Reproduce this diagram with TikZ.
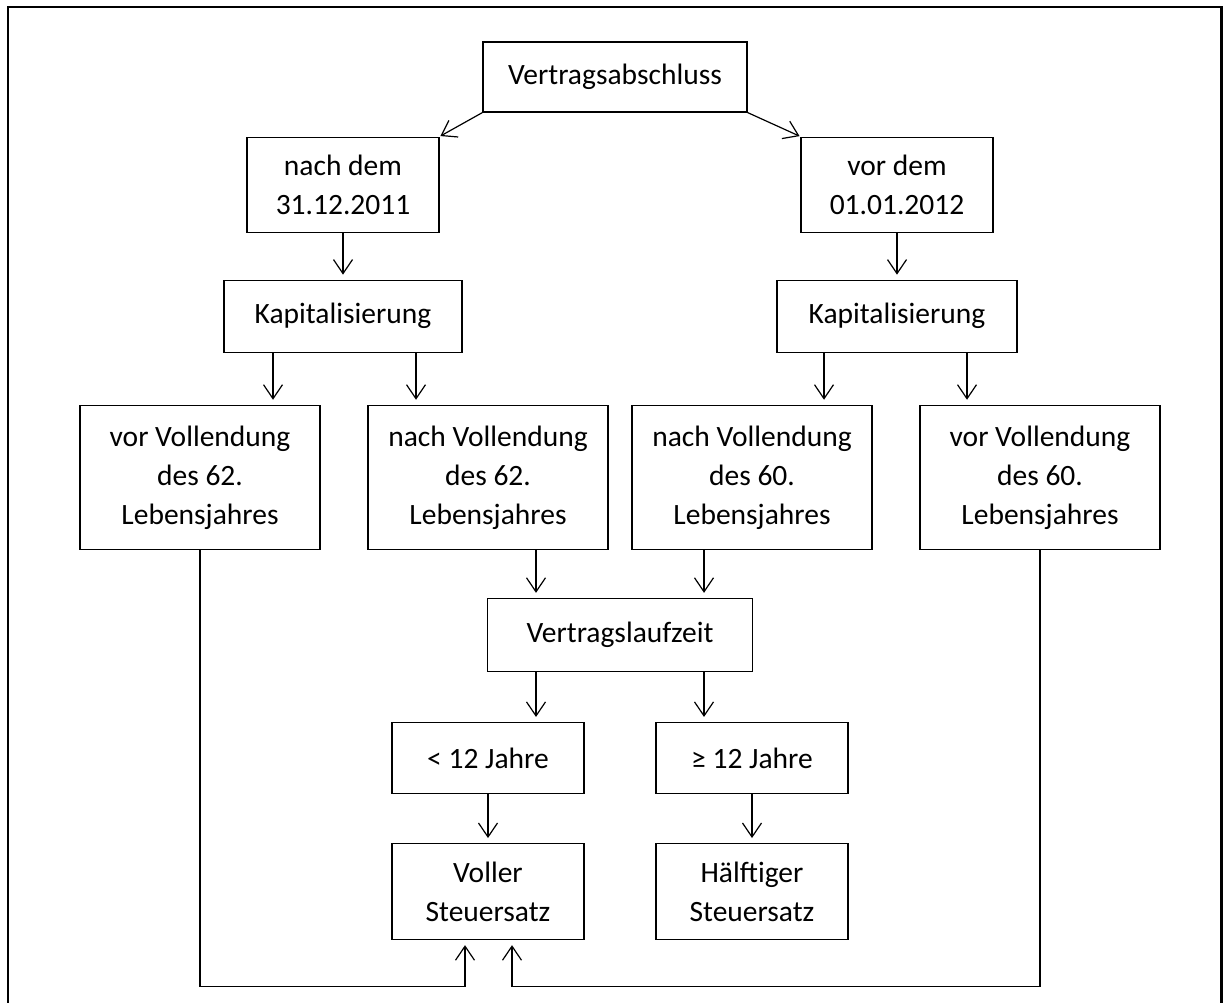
\documentclass[tikz,border=0pt]{standalone}
\usepackage{fontspec}
\setmainfont{Carlito}
\usetikzlibrary{arrows.meta,positioning}

\begin{document}
\begin{tikzpicture}[
    x=1pt,y=1pt,
    node distance=48pt,
    block/.style={rectangle,draw,line width=1.1pt,inner sep=0pt,align=center,font=\fontsize{29.5}{39}\selectfont},
    arrow/.style={line width=1.2pt,-{Straight Barb[length=14pt,width=19pt]},shorten >=5pt},
    frame/.style={line width=2.8pt}
]
    \useasboundingbox (0,0) rectangle (1223,-1003);
    \draw[frame] (8,-1010) -- (8,-7) -- (1221.5,-7) -- (1221.5,-1010);

    \node[block,minimum width=264pt,minimum height=70pt] (abschluss) at (615,-77) {Vertragsabschluss};
    \node[block,minimum width=192pt,minimum height=95pt,below=24pt of abschluss,xshift=-272pt] (nach) {nach dem\\31.12.2011};
    \node[block,minimum width=192pt,minimum height=95pt,below=24pt of abschluss,xshift=282pt] (vor) {vor dem\\01.01.2012};

    \node[block,minimum width=238pt,minimum height=72pt,below=47pt of nach] (kapL) {Kapitalisierung};
    \node[block,minimum width=240pt,minimum height=72pt,below=47pt of vor] (kapR) {Kapitalisierung};

    \node[block,minimum width=240pt,minimum height=144pt,below=52pt of kapL,xshift=-143pt] (vor62) {vor Vollendung\\des 62.\\Lebensjahres};
    \node[block,minimum width=240pt,minimum height=144pt,below=52pt of kapL,xshift=145pt] (nach62) {nach Vollendung\\des 62.\\Lebensjahres};
    \node[block,minimum width=240pt,minimum height=144pt,below=52pt of kapR,xshift=-145pt] (nach60) {nach Vollendung\\des 60.\\Lebensjahres};
    \node[block,minimum width=240pt,minimum height=144pt,below=52pt of kapR,xshift=143pt] (vor60) {vor Vollendung\\des 60.\\Lebensjahres};

    \node[block,minimum width=265pt,minimum height=73pt,below=48pt of nach62,xshift=132pt] (laufzeit) {Vertragslaufzeit};
    \node[block,minimum width=192pt,minimum height=71pt,below=50pt of laufzeit,xshift=-132pt] (kurz) {< 12 Jahre};
    \node[block,minimum width=192pt,minimum height=71pt,below=50pt of laufzeit,xshift=132pt] (lang) {≥ 12 Jahre};
    \node[block,minimum width=192pt,minimum height=96pt,below=49pt of kurz] (voll) {Voller\\Steuersatz};
    \node[block,minimum width=192pt,minimum height=96pt,below=49pt of lang] (halb) {Hälftiger\\Steuersatz};

    \draw[arrow,shorten >=1pt] (abschluss.south west) -- (nach.north east);
    \draw[arrow,shorten >=1pt] (abschluss.south east) -- (vor.north west);
    \draw[arrow] (nach) -- (kapL);
    \draw[arrow] (vor) -- (kapR);

    \draw[arrow] ([xshift=-70pt]kapL.south) -- ([xshift=-70pt]kapL.south |- vor62.north);
    \draw[arrow] ([xshift=73pt]kapL.south) -- ([xshift=73pt]kapL.south |- nach62.north);
    \draw[arrow] ([xshift=-73pt]kapR.south) -- ([xshift=-73pt]kapR.south |- nach60.north);
    \draw[arrow] ([xshift=70pt]kapR.south) -- ([xshift=70pt]kapR.south |- vor60.north);

    \draw[arrow] ([xshift=-84pt]laufzeit.north |- nach62.south) -- ([xshift=-84pt]laufzeit.north);
    \draw[arrow] ([xshift=84pt]laufzeit.north |- nach60.south) -- ([xshift=84pt]laufzeit.north);
    \draw[arrow] ([xshift=-84pt]laufzeit.south) -- ([xshift=-84pt]laufzeit.south |- kurz.north);
    \draw[arrow] ([xshift=84pt]laufzeit.south) -- ([xshift=84pt]laufzeit.south |- lang.north);

    \draw[arrow] (kurz) -- (voll);
    \draw[arrow] (lang) -- (halb);

    \draw[arrow] (vor62.south) -- ++(0,-437) -| ([xshift=-23pt]voll.south);
    \draw[arrow] (vor60.south) -- ++(0,-437) -| ([xshift=24pt]voll.south);
\end{tikzpicture}
\end{document}
